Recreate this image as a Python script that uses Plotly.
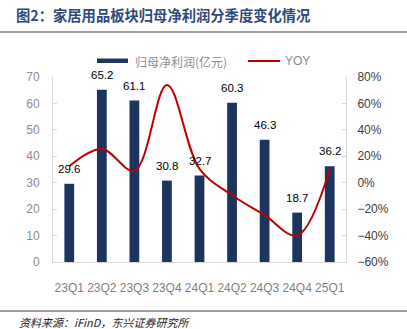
import plotly.graph_objects as go

# Quarterly net profit attributable to parent (亿元) and YoY growth (%)
quarters = ["23Q1", "23Q2", "23Q3", "23Q4", "24Q1", "24Q2", "24Q3", "24Q4", "25Q1"]
net_profit = [29.6, 65.2, 61.1, 30.8, 32.7, 60.3, 46.3, 18.7, 36.2]
yoy = [12.5, 25.5, 9.0, 74.0, 10.5, -9.5, -24.5, -40.0, 10.0]

W, H = 407, 329
ML, MR, MT, MB = 53, 61, 77, 67
PW, PH = W - ML - MR, H - MT - MB


def px_x(px):
    return (px - ML) / PW


def px_y(py):
    return (H - MB - py) / PH


BAR_COLOR = "#1B355E"
LINE_COLOR = "#C00000"
AXIS_COLOR = "#D9D9D9"
CJK = "Noto Sans CJK SC"
LATIN = "Liberation Sans, Arial"

fig = go.Figure()
fig.add_trace(go.Bar(
    x=quarters, y=net_profit, name="归母净利润(亿元)",
    marker=dict(color=BAR_COLOR, line=dict(width=0)),
    width=0.3, showlegend=False, yaxis="y",
))
fig.add_trace(go.Scatter(
    x=quarters, y=yoy, name="YOY", mode="lines",
    line=dict(color=LINE_COLOR, width=2, shape="spline", smoothing=1.0),
    showlegend=False, yaxis="y2",
))

annotations = []
# value labels above each bar
for q, v in zip(quarters, net_profit):
    annotations.append(dict(
        x=q, y=v, xref="x", yref="y", text=f"{v}", showarrow=False,
        yanchor="bottom", yshift=7,
        font=dict(family=LATIN, size=11.5, color="#000000"),
    ))

# hand-built legend
annotations += [
    dict(x=px_x(133), y=px_y(61), xref="paper", yref="paper", text="归母净利润(亿元)",
         showarrow=False, xanchor="left", yanchor="middle",
         font=dict(family=CJK, size=12, color="#8C8C8C")),
    dict(x=px_x(283), y=px_y(61), xref="paper", yref="paper", text="YOY",
         showarrow=False, xanchor="left", yanchor="middle",
         font=dict(family=LATIN, size=12, color="#8C8C8C")),
    dict(x=px_x(17), y=px_y(322), xref="paper", yref="paper",
         text="<i>资料来源：iFinD，东兴证券研究所</i>",
         showarrow=False, xanchor="left", yanchor="middle",
         font=dict(family=CJK, size=11, color="#222222")),
]

shapes = [
    dict(type="rect", xref="paper", yref="paper",
         x0=px_x(97), x1=px_x(128), y0=px_y(58.5), y1=px_y(63),
         fillcolor=BAR_COLOR, line=dict(width=0)),
    dict(type="line", xref="paper", yref="paper",
         x0=px_x(248), x1=px_x(280), y0=px_y(61), y1=px_y(61),
         line=dict(color=LINE_COLOR, width=2)),
    dict(type="line", xref="paper", yref="paper",
         x0=px_x(0), x1=px_x(407), y0=px_y(32), y1=px_y(32),
         line=dict(color="#7F7F7F", width=1.5)),
    dict(type="line", xref="paper", yref="paper",
         x0=px_x(0), x1=px_x(407), y0=px_y(311), y1=px_y(311),
         line=dict(color="#404040", width=1.2)),
]

fig.update_layout(
    width=W, height=H,
    margin=dict(l=ML, r=MR, t=MT, b=MB, autoexpand=False),
    paper_bgcolor="white", plot_bgcolor="white",
    title=dict(
        text="<b>图2：家居用品板块归母净利润分季度变化情况</b>",
        x=16 / W, xanchor="left", y=1 - 16 / H, yanchor="middle",
        xref="container", yref="container",
        font=dict(family=CJK, size=14.3, color="#2E4A7C"),
    ),
    xaxis=dict(
        type="category", categoryorder="array", categoryarray=quarters,
        showline=True, linecolor=AXIS_COLOR, linewidth=1,
        ticks="", ticklabelstandoff=15, showgrid=False, zeroline=False,
        tickfont=dict(family=LATIN, size=12, color="#7F7F7F"),
        range=[-0.5, len(quarters) - 0.5],
    ),
    yaxis=dict(
        range=[0, 70], dtick=10, showgrid=False, zeroline=False,
        showline=True, linecolor=AXIS_COLOR, linewidth=1,
        ticks="inside", ticklen=4, tickcolor=AXIS_COLOR, ticklabelstandoff=10,
        tickfont=dict(family=LATIN, size=12, color="#8C8C8C"),
    ),
    yaxis2=dict(
        range=[-60, 80], dtick=20, ticksuffix="%", overlaying="y", side="right",
        showgrid=False, zeroline=False,
        showline=True, linecolor=AXIS_COLOR, linewidth=1,
        ticks="inside", ticklen=4, tickcolor=AXIS_COLOR, ticklabelstandoff=8,
        tickfont=dict(family=LATIN, size=12, color="#404040"),
    ),
    bargap=0.7,
    annotations=annotations,
    shapes=shapes,
)

fig.write_html("out.html")
